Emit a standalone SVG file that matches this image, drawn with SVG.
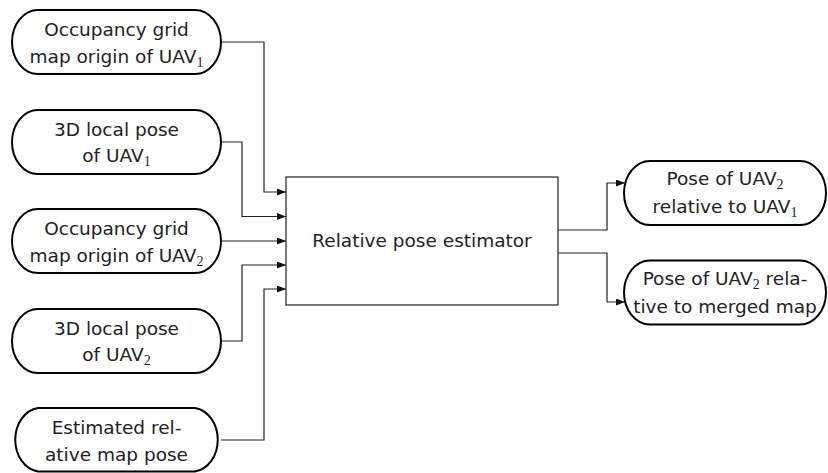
<svg xmlns="http://www.w3.org/2000/svg" width="828" height="473" viewBox="0 0 828 473">
<style>
.node{fill:#fff;stroke:#000;stroke-width:2}
.box{fill:#fff;stroke:#222;stroke-width:1.2}
.t{font-family:"DejaVu Sans","Liberation Sans",sans-serif;font-size:18.5px;fill:#222;text-anchor:middle}
.sub{font-family:"Liberation Serif","DejaVu Serif",serif;font-size:14px}
.c{fill:none;stroke:#222;stroke-width:1.2;marker-end:url(#ah)}
</style>
<defs>
<marker id="ah" markerUnits="userSpaceOnUse" markerWidth="10" markerHeight="8" refX="9" refY="3.5" orient="auto">
<path d="M0,0 L9,3.5 L0,7 Z" fill="#111"/>
</marker>
</defs>
<rect width="828" height="473" fill="#fff"/>
<g id="connectors">
<path class="c" d="M221,42 H264 V192 H286"/>
<path class="c" d="M221,142 H242 V216.5 H286"/>
<path class="c" d="M221,241 H286"/>
<path class="c" d="M221,341 H242 V265 H286"/>
<path class="c" d="M221,440 H264 V289 H286"/>
<path class="c" d="M558,230 H607 V183 H625"/>
<path class="c" d="M558,253 H607 V302 H625"/>
</g>
<g id="n1">
<path class="node" d="M38,10 H195 A26,32 0 0 1 195,74 H38 A26,32 0 0 1 38,10 Z"/>
<text class="t" x="116.5" y="36">Occupancy grid</text>
<text class="t" x="116.5" y="63">map origin of UAV<tspan class="sub" dy="4">1</tspan></text>
</g>
<g id="n2">
<path class="node" d="M38,110 H195 A26,32 0 0 1 195,174 H38 A26,32 0 0 1 38,110 Z"/>
<text class="t" x="116.5" y="136">3D local pose</text>
<text class="t" x="116.5" y="162">of UAV<tspan class="sub" dy="4">1</tspan></text>
</g>
<g id="n3">
<path class="node" d="M38,209 H195 A26,32 0 0 1 195,273 H38 A26,32 0 0 1 38,209 Z"/>
<text class="t" x="116.5" y="235">Occupancy grid</text>
<text class="t" x="116.5" y="262">map origin of UAV<tspan class="sub" dy="4">2</tspan></text>
</g>
<g id="n4">
<path class="node" d="M38,309 H195 A26,32 0 0 1 195,373 H38 A26,32 0 0 1 38,309 Z"/>
<text class="t" x="116.5" y="335">3D local pose</text>
<text class="t" x="116.5" y="361">of UAV<tspan class="sub" dy="4">2</tspan></text>
</g>
<g id="n5">
<path class="node" d="M38,408 H195 A26,32 0 0 1 195,471.5 H38 A26,32 0 0 1 38,408 Z"/>
<text class="t" x="116.5" y="434">Estimated rel-</text>
<text class="t" x="116.5" y="461">ative map pose</text>
</g>
<g id="estimator">
<rect class="box" x="286" y="177" width="272" height="128"/>
<text class="t" x="422" y="247">Relative pose estimator</text>
</g>
<g id="o1">
<path class="node" d="M650,161 H800 A26,32 0 0 1 800,225 H650 A26,32 0 0 1 650,161 Z"/>
<text class="t" x="725" y="185">Pose of UAV<tspan class="sub" dy="4">2</tspan></text>
<text class="t" x="725" y="213">relative to UAV<tspan class="sub" dy="4">1</tspan></text>
</g>
<g id="o2">
<path class="node" d="M650,260.5 H800 A26,32 0 0 1 800,324.5 H650 A26,32 0 0 1 650,260.5 Z"/>
<text class="t" x="725" y="284.5">Pose of UAV<tspan class="sub" dy="4">2</tspan><tspan dy="-4"> rela-</tspan></text>
<text class="t" x="725" y="312.5">tive to merged map</text>
</g>
</svg>
